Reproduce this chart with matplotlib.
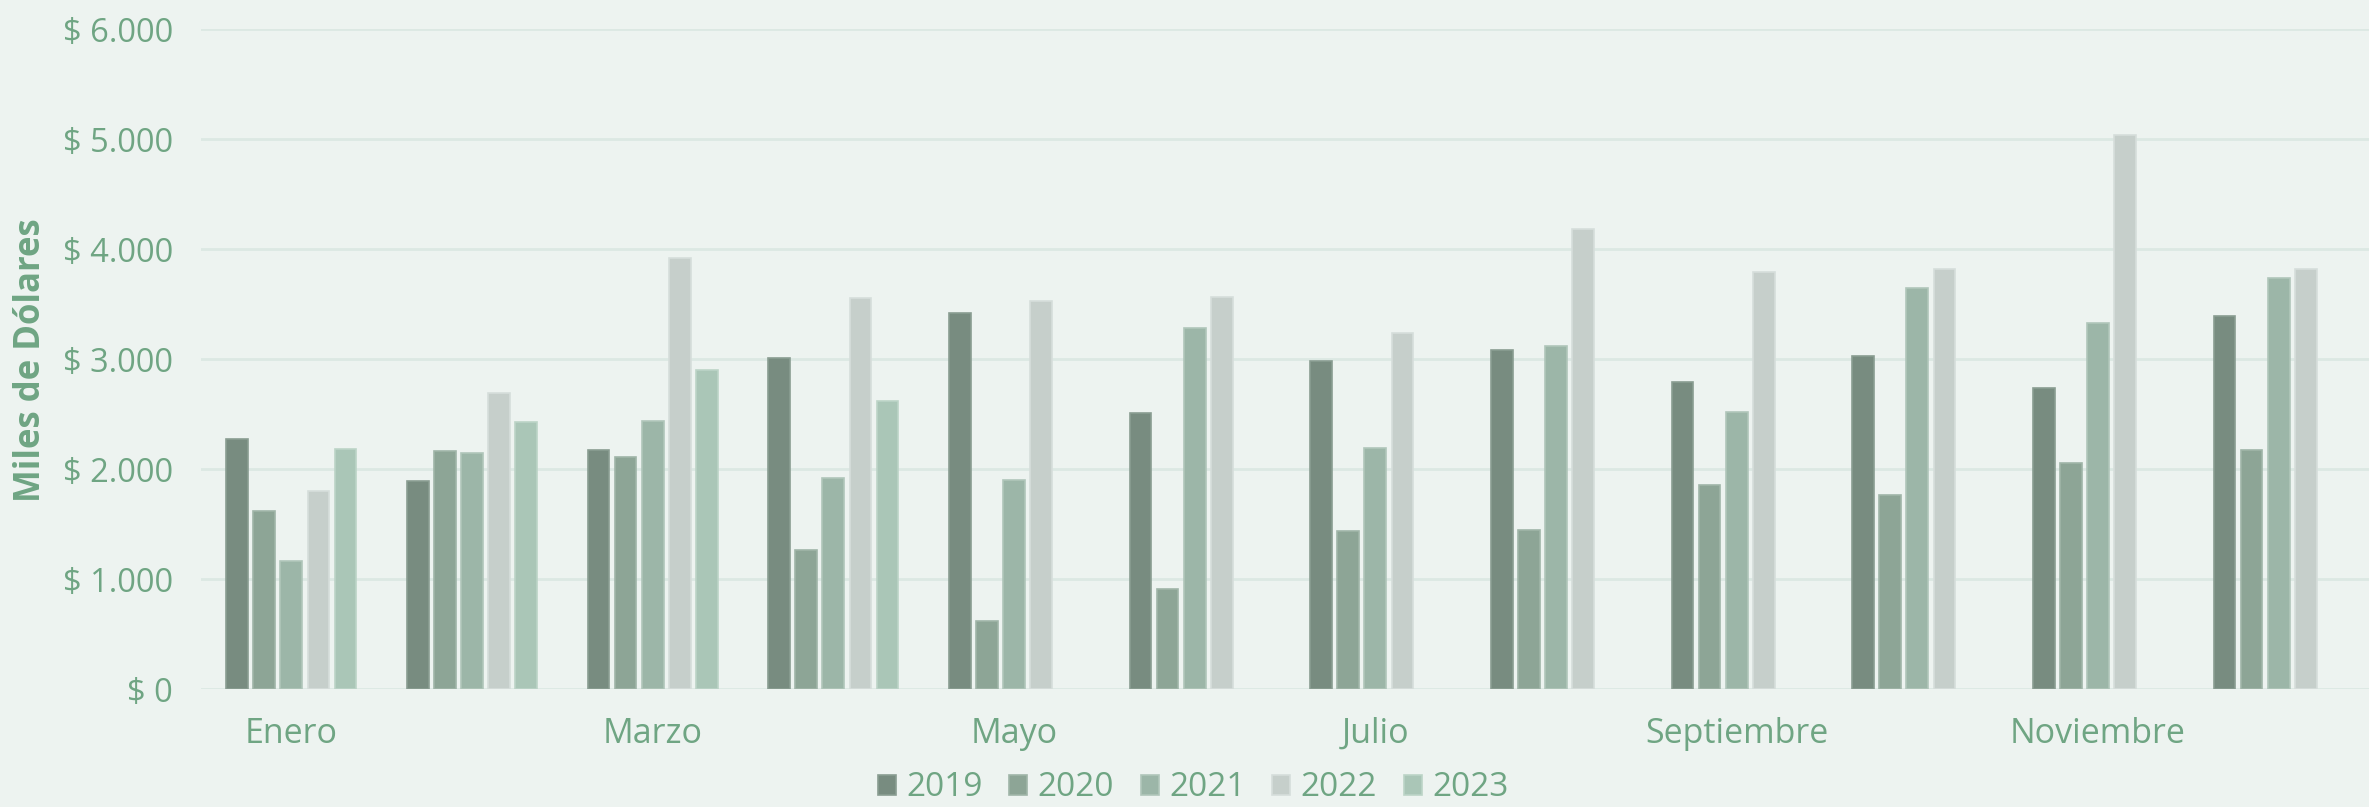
import numpy as np
import matplotlib.pyplot as plt
from matplotlib.ticker import FuncFormatter

# ventas mensuales (miles de dólares)
meses = ['Enero', 'Febrero', 'Marzo', 'Abril', 'Mayo', 'Junio', 'Julio',
         'Agosto', 'Septiembre', 'Octubre', 'Noviembre', 'Diciembre']
anios = ['2019', '2020', '2021', '2022', '2023']

v2019 = [2273, 1891, 2170, 3009, 3421, 2506, 2982, 3082, 2788, 3024, 2739, 3390]
v2020 = [1618, 2161, 2109, 1264, 621, 906, 1436, 1442, 1852, 1764, 2055, 2174]
v2021 = [1161, 2145, 2433, 1918, 1900, 3282, 2194, 3115, 2518, 3648, 3328, 3735]
v2022 = [1797, 2691, 3915, 3552, 3530, 3567, 3239, 4182, 3788, 3815, 5035, 3822]
v2023 = [2182, 2427, 2903, 2615]  # solo primeros meses

series = [v2019, v2020, v2021, v2022, v2023]
colores = ['#788c80', '#8da596', '#9cb6a8', '#c6cfcb', '#aac6b7']
bordes = ['#8a9d92', '#a0b5a8', '#b0c6ba', '#d6dedb', '#bcd4c7']

fondo = '#edf3f0'
verde_txt = '#6fa583'
grilla = '#dce8e3'

plt.rcParams['font.family'] = ['Open Sans', 'DejaVu Sans']

fig = plt.figure(figsize=(23.69, 8.07), dpi=100, facecolor=fondo)
ax = fig.add_axes([201 / 2369, 1 - 689 / 807, 1 - 201 / 2369, (689 - 29) / 807])
ax.set_facecolor(fondo)

x = np.arange(len(meses))
paso = 0.15
ancho = 0.12
for i, (vals, c, b, lab) in enumerate(zip(series, colores, bordes, anios)):
    xs = x[:len(vals)] + (i - 2) * paso
    ax.bar(xs, vals, width=ancho, color=c, edgecolor=b, linewidth=1.2,
           label=lab, zorder=3)

ax.set_xlim(-0.5, len(meses) - 0.5)
ax.set_ylim(0, 6000)
ax.set_yticks(np.arange(0, 6001, 1000))
ax.yaxis.set_major_formatter(FuncFormatter(
    lambda v, p: '$ ' + f'{int(v):,}'.replace(',', '.')))
ax.set_xticks(x[::2])
ax.set_xticklabels(meses[::2])

ax.grid(axis='y', color=grilla, linewidth=2, zorder=0)
ax.tick_params(axis='both', length=0, labelsize=24.5, labelcolor=verde_txt)
ax.tick_params(axis='y', labelsize=23.5, pad=20)
ax.tick_params(axis='x', pad=20)
for s in ax.spines.values():
    s.set_visible(False)

fig.text(31 / 2369, 1 - 360 / 807, 'Miles de Dólares', rotation=90,
         ha='center', va='center', fontsize=25, fontweight='bold',
         color=verde_txt)

leg = fig.legend(loc='center', bbox_to_anchor=(1193 / 2369, 1 - 788 / 807),
                 ncol=5, frameon=False, fontsize=24, handlelength=0.55,
                 handleheight=0.55, handletextpad=0.3, columnspacing=0.8,
                 borderaxespad=0)
for t in leg.get_texts():
    t.set_color(verde_txt)

fig.savefig('out.png', dpi=100, facecolor=fondo)
